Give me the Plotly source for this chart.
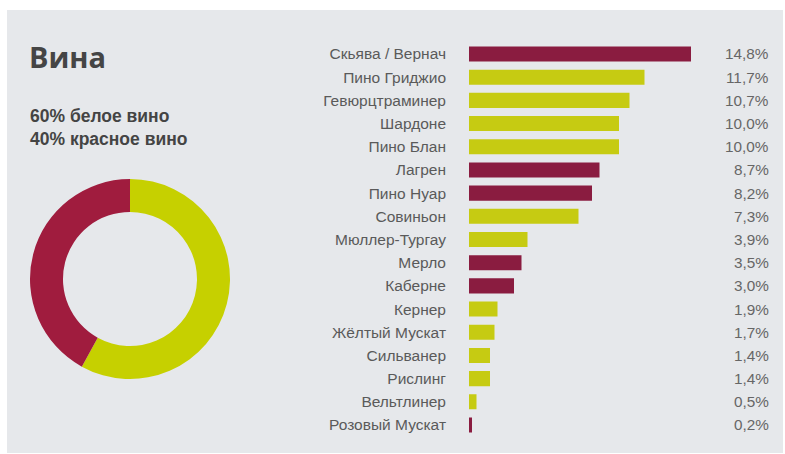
import plotly.graph_objects as go

W, H = 785, 454

categories = ["Скьява / Вернач", "Пино Гриджио", "Гевюрцтраминер", "Шардоне", "Пино Блан",
              "Лагрен", "Пино Нуар", "Совиньон", "Мюллер-Тургау", "Мерло", "Каберне",
              "Кернер", "Жёлтый Мускат", "Сильванер", "Рислинг", "Вельтлинер", "Розовый Мускат"]
values = [14.8, 11.7, 10.7, 10.0, 10.0, 8.7, 8.2, 7.3, 3.9, 3.5, 3.0, 1.9, 1.7, 1.4, 1.4, 0.5, 0.2]
wine_type = ["red", "white", "white", "white", "white", "red", "red", "white", "white", "red", "red",
             "white", "white", "white", "white", "white", "red"]
pct_labels = ["14,8%", "11,7%", "10,7%", "10,0%", "10,0%", "8,7%", "8,2%", "7,3%", "3,9%", "3,5%",
              "3,0%", "1,9%", "1,7%", "1,4%", "1,4%", "0,5%", "0,2%"]

donut_labels = ["белое вино", "красное вино"]
donut_values = [58, 42]

RED_BAR = "#8a1c40"
YEL_BAR = "#c6cb12"
RED_DONUT = "#a01c3e"
YEL_DONUT = "#c6d000"
PANEL = "#e6e8eb"

bar_colors = [RED_BAR if t == "red" else YEL_BAR for t in wine_type]

fig = go.Figure()

fig.add_trace(go.Bar(
    x=values, y=categories, orientation="h",
    marker=dict(color=bar_colors, line=dict(width=0)),
    hoverinfo="skip", showlegend=False,
))

fig.add_trace(go.Pie(
    labels=donut_labels, values=donut_values, hole=0.67,
    marker=dict(colors=[YEL_DONUT, RED_DONUT], line=dict(width=0)),
    direction="clockwise", sort=False, rotation=0,
    textinfo="none", hoverinfo="skip", showlegend=False,
    domain=dict(x=[30 / W, 230 / W], y=[1 - 379 / H, 1 - 179 / H]),
))

for cat, lab in zip(categories, pct_labels):
    fig.add_annotation(
        x=771 / W, xref="paper", y=cat, yref="y", text=lab, showarrow=False,
        xanchor="right", yanchor="middle",
        font=dict(family="Liberation Sans, Arial, sans-serif", size=15.3, color="#666666"),
    )

# title and summary text
fig.add_annotation(x=27 / W, y=1 - 57 / H, xref="paper", yref="paper", text="<b>Вина</b>",
                   showarrow=False, xanchor="left", yanchor="middle",
                   font=dict(family="Open Sans, sans-serif", size=29, color="#454545"))
fig.add_annotation(x=28 / W, y=1 - 116 / H, xref="paper", yref="paper", text="<b>60% белое вино</b>",
                   showarrow=False, xanchor="left", yanchor="middle",
                   font=dict(family="Liberation Sans, Arial, sans-serif", size=17.5, color="#444444"))
fig.add_annotation(x=28 / W, y=1 - 139 / H, xref="paper", yref="paper", text="<b>40% красное вино</b>",
                   showarrow=False, xanchor="left", yanchor="middle",
                   font=dict(family="Liberation Sans, Arial, sans-serif", size=17.5, color="#444444"))

band = (425 - 54) / 16
top_px = 54 - band / 2
bot_px = 425 + band / 2

fig.update_layout(
    width=W, height=H,
    margin=dict(l=0, r=0, t=0, b=0),
    paper_bgcolor="white", plot_bgcolor="rgba(0,0,0,0)",
    bargap=0.35,
    xaxis=dict(domain=[469 / W, 769 / W], range=[0, 20], visible=False, fixedrange=True),
    yaxis=dict(domain=[1 - bot_px / H, 1 - top_px / H], autorange="reversed",
               categoryorder="array", categoryarray=categories,
               showgrid=False, zeroline=False, showline=False, ticks="",
               ticklabelstandoff=22,
               tickfont=dict(family="Liberation Sans, Arial, sans-serif", size=15.5, color="#5a5a5a")),
    shapes=[dict(type="rect", xref="paper", yref="paper", x0=7 / W, x1=783 / W, y0=1 - 453 / H,
                 y1=1 - 10 / H, fillcolor=PANEL, line=dict(width=0), layer="below")],
)

fig.write_html("out.html")
